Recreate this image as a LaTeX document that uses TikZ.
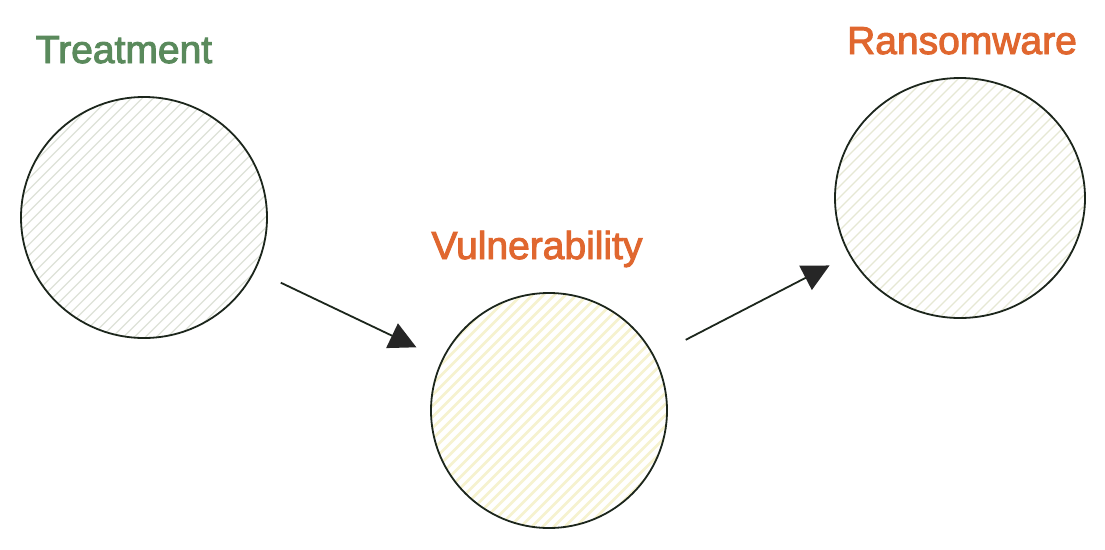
\documentclass[tikz,border=0pt]{standalone}
\usepackage{fontspec}
\setmainfont{Liberation Sans}
\newfontfamily\lblfont{Liberation Sans}[UprightFeatures={FakeBold=2.5}]
\usetikzlibrary{arrows.meta,shapes.geometric,calc}
\definecolor{tgreen}{HTML}{5A8A5C}
\definecolor{torange}{HTML}{E0672F}
\definecolor{edge}{HTML}{1C261C}
\definecolor{hatchA}{HTML}{DDE2D8}
\definecolor{hatchB}{HTML}{E6E8D4}
\definecolor{hatchC}{HTML}{F6F2CF}
\tikzset{
  x=1pt, y=-1pt,
  lbl/.style={anchor=base, inner sep=0pt, font=\lblfont\fontsize{39}{47}\selectfont},
  blob/.style n args={3}{ellipse, draw=edge, line width=1.8pt, inner sep=0pt, outer sep=0pt,
    minimum width=#1, minimum height=#2,
    path picture={
      \foreach \i in {-18,...,18}{
        \draw[#3] ($(path picture bounding box.center)+(\i*11-160,160)$) -- ++(320,-320);
      }
    }},
  arr/.style={draw=edge, line width=1.8pt, -{Triangle[length=27pt,width=27pt,fill=black!85,color=black!85]}}
}
\begin{document}
\begin{tikzpicture}
\fill[white] (0,0) rectangle (1105,549);
\useasboundingbox (0,0) rectangle (1105,549);
\node[blob={246pt}{241pt}{hatchA,line width=1.1pt}] (T) at (144,217.5) {};
\node[blob={236pt}{235pt}{hatchC,line width=2.6pt}] (V) at (549,410.5) {};
\node[blob={250pt}{240pt}{hatchB,line width=1.1pt}] (R) at (960,198) {};
\node[lbl, text=tgreen] (tl) at (124,63) {Treatment};
\node[lbl, text=torange] (vl) at (537,259) {Vulnerability};
\node[lbl, text=torange] (rl) at (962,54) {Ransomware};
\draw[arr, shorten <=29pt, shorten >=29pt] (T) -- (V);
\draw[arr, shorten <=36pt, shorten >=23pt] (V) -- (R);
\end{tikzpicture}
\end{document}
